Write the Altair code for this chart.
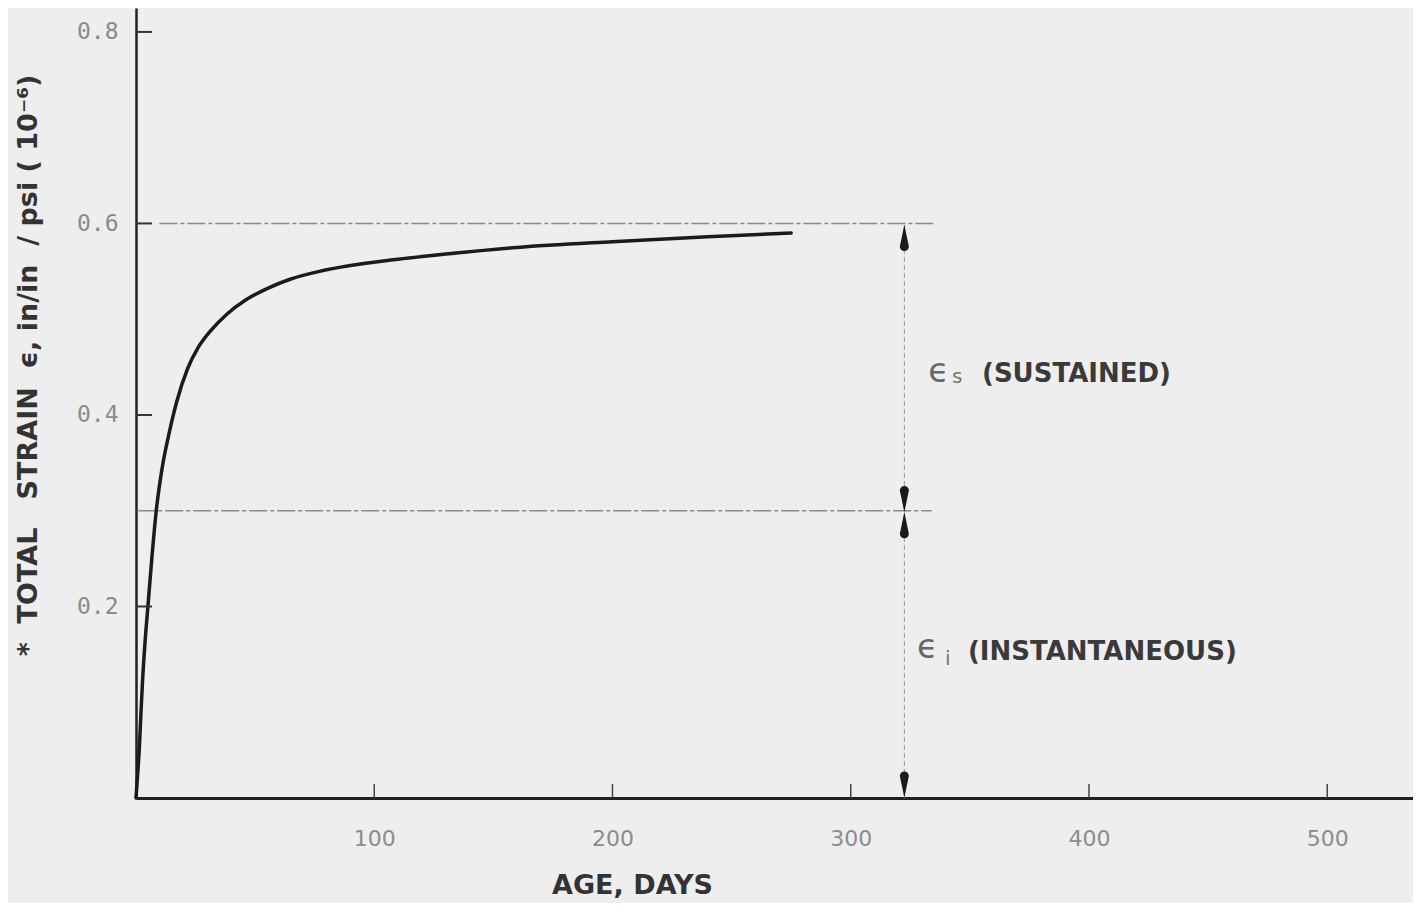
import altair as alt
import pandas as pd

# ---- data ----
days = [0, 0.7, 1.4, 2.0, 2.7, 3.8, 5, 6.7, 8.5, 11, 14, 17, 21.6, 26, 31, 38, 46, 55, 65, 77,
        90, 108, 130, 160, 200, 240, 275]
strain = [0, 0.025, 0.052, 0.085, 0.12, 0.163, 0.2, 0.252, 0.3, 0.345, 0.382, 0.413, 0.448,
          0.47, 0.487, 0.505, 0.52, 0.532, 0.542, 0.55, 0.556, 0.562, 0.568, 0.575, 0.581,
          0.586, 0.59]

x_ticks = [100, 200, 300, 400, 500]
y_ticks = [0.2, 0.4, 0.6, 0.8]

ref_levels = [0.6, 0.3]
ref_start = [9.8, 0.5]
ref_end = [335, 334]

dim_x = 322.5
up_arrows = [0.583, 0.283]
down_arrows = [0.314, 0.016]

# ---- layout ----
W, H = 1277, 790
X_MAX = 536
Y_MAX = 0.825

xs = alt.Scale(domain=[0, X_MAX], nice=False, zero=True)
ys = alt.Scale(domain=[0, Y_MAX], nice=False)
one = alt.Data(values=[{}])

NB = "\u00a0"
y_title = ("*" + NB * 2 + "TOTAL" + NB * 3 + "STRAIN" + NB * 2 + "ϵ," + NB + "in/in" + NB * 2
           + "/" + NB + "psi" + NB + "(" + NB + "10⁻⁶)")

curve = alt.Chart(pd.DataFrame({"days": days, "strain": strain})).mark_line(
    color="#1b1b1b", strokeWidth=3.5, interpolate="monotone", strokeCap="round"
).encode(
    x=alt.X("days:Q", scale=xs, axis=alt.Axis(
        values=x_ticks, ticks=False, tickSize=0, grid=False,
        domainColor="#222222", domainWidth=3,
        labelFont="DejaVu Sans", labelFontSize=22, labelColor="#8c8c8c",
        labelBaseline="alphabetic", labelPadding=47,
        title="AGE, DAYS", titleFont="DejaVu Sans", titleFontSize=27, titleFontWeight="bold",
        titleColor="#333333", titleX=496, titleY=95, titleBaseline="alphabetic",
        titleAlign="center")),
    y=alt.Y("strain:Q", scale=ys, axis=alt.Axis(
        values=y_ticks, format=".1f", ticks=False, tickSize=0, grid=False,
        domainColor="#222222", domainWidth=2.5,
        labelFont="DejaVu Sans Mono", labelFontSize=23, labelColor="#8a8a8a", labelPadding=18,
        title=y_title, titleFont="DejaVu Sans", titleFontSize=27, titleFontWeight="bold",
        titleColor="#333333", titleAngle=270, titleX=-108, titleY=357,
        titleBaseline="middle", titleAlign="center")),
)

ytick_layer = alt.Chart(pd.DataFrame({"v": y_ticks})).mark_rule(color="#333333", strokeWidth=2).encode(
    y=alt.Y("v:Q", scale=ys), x=alt.value(0), x2=alt.value(16))
xtick_layer = alt.Chart(pd.DataFrame({"v": x_ticks})).mark_rule(color="#444444", strokeWidth=1.5).encode(
    x=alt.X("v:Q", scale=xs), y=alt.value(H), y2=alt.value(H - 14))

refs = alt.Chart(pd.DataFrame({"level": ref_levels, "start": ref_start, "end": ref_end})).mark_rule(
    color="#8a8a8a", strokeWidth=1.4, strokeDash=[18, 3, 4, 3]
).encode(x=alt.X("start:Q", scale=xs), x2="end:Q", y=alt.Y("level:Q", scale=ys))

vline = alt.Chart(one).mark_rule(color="#999999", strokeWidth=1, strokeDash=[5, 3]).encode(
    x=alt.datum(dim_x), y=alt.datum(0), y2=alt.datum(0.6))

UP = "M0,-1 L0.3,0.45 A0.3,0.3 0 1,1 -0.3,0.45 Z"
DOWN = "M0,1 L0.3,-0.45 A0.3,0.3 0 1,0 -0.3,-0.45 Z"

arr_up = alt.Chart(pd.DataFrame({"y": up_arrows})).mark_point(
    shape=UP, size=900, filled=True, color="#1a1a1a", opacity=1
).encode(x=alt.datum(dim_x), y=alt.Y("y:Q", scale=ys))
arr_down = alt.Chart(pd.DataFrame({"y": down_arrows})).mark_point(
    shape=DOWN, size=900, filled=True, color="#1a1a1a", opacity=1
).encode(x=alt.datum(dim_x), y=alt.Y("y:Q", scale=ys))


def txt(s, x, y, size, color, weight="normal"):
    return alt.Chart(one).mark_text(
        text=s, align="left", baseline="alphabetic", font="DejaVu Sans",
        fontSize=size, fontWeight=weight, color=color
    ).encode(x=alt.datum(x), y=alt.datum(y))


texts = [
    txt("ϵ", 332.5, 0.4345, 34, "#666666"),
    txt("s", 342.5, 0.4335, 20, "#777777"),
    txt("(SUSTAINED)", 355.1, 0.4345, 26, "#3a3a3a", "bold"),
    txt("ϵ", 327.8, 0.146, 34, "#666666"),
    txt("i", 339.6, 0.139, 20, "#777777"),
    txt("(INSTANTANEOUS)", 349.2, 0.1441, 26, "#3a3a3a", "bold"),
]

chart = alt.layer(refs, vline, curve, ytick_layer, xtick_layer, arr_up, arr_down, *texts).properties(
    width=W, height=H,
    padding={"left": 128, "top": 0, "right": 0, "bottom": 105},
    autosize=alt.AutoSizeParams(type="none"),
).configure(background="#eeeeee").configure_view(stroke=None)

chart.save("out.html", embed_options={"renderer": "svg", "actions": False})
